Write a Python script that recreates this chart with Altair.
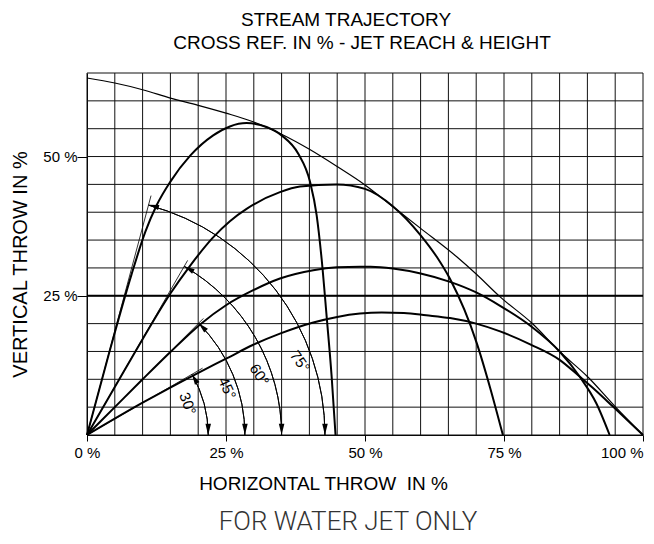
import math
import altair as alt
import pandas as pd

# ---------------- data ----------------
ENV_X = [0, 5, 10, 15, 20, 25, 30, 35, 40, 45, 50, 55, 60, 66.5, 70, 74.3, 80, 85, 90, 95, 100]
ENV_Y = [64.1, 63.2, 62.0, 60.5, 59.2, 57.8, 56.2, 54.0, 51.3, 48.2, 44.9, 41.0, 37.1, 32.0, 28.9, 24.8, 20.1, 15.0, 10.5, 5.1, 0]

T75_X = [0, 4, 8, 10.5, 12.5, 15, 18.6, 22.7, 25.7, 28.7, 32.3, 35, 38, 40.1, 41.3, 42.2, 43.1, 44, 44.7]
T75_Y = [0, 14.8, 28.8, 36.5, 41.2, 45.5, 50.2, 53.8, 55.4, 56, 55.3, 53.8, 50.5, 45.5, 39.5, 31.6, 21.3, 10.5, 0]

T60_X = [0, 5, 10, 15, 18.4, 22.6, 25.7, 28.7, 34.7, 38.3, 44.9, 50, 55.1, 59.9, 62.9, 65.3, 70.1, 72.5, 74.8]
T60_Y = [0, 8.6, 17.2, 25.4, 30.2, 35.4, 38.4, 40.6, 43.6, 44.6, 45.0, 44.2, 41.0, 36.0, 32.0, 28.0, 16.5, 8.5, 0]

T45_X = [0, 5, 10, 15, 20.4, 25, 29.9, 34.7, 40.7, 45, 49.1, 51, 55, 60, 65.3, 70, 74.3, 79.9, 85, 88.6, 91.6, 94]
T45_Y = [0, 5, 10, 14.9, 19.9, 23.3, 26.0, 28.1, 29.6, 30.1, 30.2, 30.2, 29.9, 29.0, 27.5, 25.6, 23.2, 19.5, 15.0, 10.5, 5.7, 0]

T30_X = [0, 10, 19.5, 25.2, 29.9, 34.7, 40.7, 45, 49.1, 53, 57, 61, 65.3, 70, 74.3, 79.9, 85, 88.6, 91.5, 94.6, 100]
T30_Y = [0, 5.8, 10.9, 13.8, 16.2, 18.2, 20.2, 21.2, 21.8, 22.0, 21.9, 21.5, 21.0, 20.0, 18.6, 16.2, 13.5, 10.5, 8.0, 5.1, 0]

ARC_ANGLES = [75, 60, 45, 30]
ARC_RADII = [42.8, 35.0, 28.4, 21.8]
TANGENT_LEN = [44.5, 36.2, 29.6, 24.0]

ANGLE_LABELS = ["75°", "60°", "45°", "30°"]
LABEL_X = [38.3, 31.0, 25.2, 18.1]
LABEL_Y = [13.2, 10.8, 8.4, 5.6]
LABEL_ROT = [55, 58, 65, 70]

GRID_X = [0, 5, 10, 15, 20, 25, 30, 35, 40, 45, 50, 55, 60, 65, 70, 75, 80, 85, 90, 95, 100]
GRID_Y = [0, 5, 10, 15, 20, 25, 30, 35, 40, 45, 50, 55, 60, 65]
REF_LINE = [25]
X_TICKS = [0, 25, 50, 75, 100]
Y_TICKS = [25, 50]

HEADER_1 = "STREAM TRAJECTORY"
HEADER_2 = "CROSS REF. IN % - JET REACH & HEIGHT"
X_TITLE = "HORIZONTAL THROW\u00a0 IN %"
Y_TITLE = "VERTICAL THROW IN %"
FOOTER = "FOR WATER JET ONLY"

# ---------------- chart ----------------
W, H = 556, 362
FONT = "Liberation Sans"
xs = alt.Scale(domain=[0, 100], nice=False, zero=False)
ys = alt.Scale(domain=[0, 65], nice=False, zero=False)

x_axis = alt.Axis(
    values=X_TICKS, labelExpr="datum.value + ' %'", title=X_TITLE, grid=False,
    domainColor="black", domainWidth=1, tickSize=6, tickColor="black", tickWidth=1,
    labelFont=FONT, labelFontSize=15, labelColor="black", labelPadding=4,
    labelFlush=False, labelAlign={"expr": "datum.value == 100 ? 'right' : 'center'"},
    titleFont=FONT, titleFontSize=19, titleFontWeight="normal", titleColor="black",
    titleX=236, titleY=54, titleAlign="center", titleBaseline="alphabetic",
)
y_axis = alt.Axis(
    values=Y_TICKS, labelExpr="datum.value + ' %'", title=Y_TITLE, grid=False,
    domainColor="black", domainWidth=1, tickSize=10, tickColor="black", tickWidth=1,
    labelFont=FONT, labelFontSize=15, labelColor="black", labelPadding=0,
    titleFont=FONT, titleFontSize=20, titleFontWeight="normal", titleColor="black",
    titleX=-67, titleY=191, titleAngle=270, titleAlign="center", titleBaseline="middle",
)


def X(f):
    return alt.X(f, type="quantitative", scale=xs, axis=x_axis)


def Y(f):
    return alt.Y(f, type="quantitative", scale=ys, axis=y_axis)


vgrid = alt.Chart(pd.DataFrame({"gx": GRID_X})).mark_rule(color="#111", strokeWidth=1).encode(
    x=X("gx"))
hgrid = alt.Chart(pd.DataFrame({"gy": GRID_Y})).mark_rule(color="#111", strokeWidth=1).encode(
    y=Y("gy"))
ref = alt.Chart(pd.DataFrame({"gy": REF_LINE})).mark_rule(color="black", strokeWidth=2).encode(
    y=Y("gy"))

rows = []
for name, xv, yv in [("75", T75_X, T75_Y), ("60", T60_X, T60_Y), ("45", T45_X, T45_Y), ("30", T30_X, T30_Y)]:
    for i, (a, b) in enumerate(zip(xv, yv)):
        rows.append({"curve": name, "i": i, "x": a, "y": b})
traj_df = pd.DataFrame(rows)
env_df = pd.DataFrame({"x": ENV_X, "y": ENV_Y, "i": list(range(len(ENV_X)))})

env = alt.Chart(env_df).mark_line(color="black", strokeWidth=1.2, interpolate="monotone").encode(
    x=X("x"), y=Y("y"), order="i:Q")
traj = alt.Chart(traj_df).mark_line(color="black", strokeWidth=2, interpolate="monotone").encode(
    x=X("x"), y=Y("y"), detail="curve:N", order="i:Q")

arc_df = pd.DataFrame({"a": ARC_ANGLES, "r": ARC_RADII, "L": TANGENT_LEN})

tangents = alt.Chart(arc_df).transform_calculate(
    x0="0", y0="0",
    x1="datum.L * cos(datum.a * PI / 180)",
    y1="datum.L * sin(datum.a * PI / 180)",
).mark_rule(color="black", strokeWidth=0.8).encode(
    x=X("x0"), y=Y("y0"), x2=alt.X2("x1"), y2=alt.Y2("y1"))

arcs = alt.Chart(arc_df).transform_calculate(
    cx="0", cy="0", t1="90 - datum.a", t2="90"
).mark_arc(filled=False, stroke="black", strokeWidth=1).encode(
    x=X("cx"), y=Y("cy"),
    theta=alt.Theta("t1:Q", stack=False, scale=alt.Scale(domain=[0, 360], range=[0, 2 * math.pi])),
    theta2=alt.Theta2("t2"),
    radius=alt.Radius("r:Q", scale=alt.Scale(type="linear", domain=[0, 100], range=[0, W])),
    radius2=alt.Radius2("r"),
)

ARROW = "M0,0 L-0.25,-1 L0.25,-1 Z"
start_arrows = alt.Chart(arc_df).transform_calculate(
    ax="datum.r * cos(datum.a * PI / 180)",
    ay="datum.r * sin(datum.a * PI / 180)",
    rot="180 - datum.a",
).mark_point(shape=ARROW, filled=True, color="black", size=440, opacity=1).encode(
    x=X("ax"), y=Y("ay"), angle=alt.Angle("rot:Q", scale=None))
end_arrows = alt.Chart(arc_df).transform_calculate(
    ex="datum.r", ey="0", rot="0"
).mark_point(shape=ARROW, filled=True, color="black", size=500, opacity=1).encode(
    x=X("ex"), y=Y("ey"), angle=alt.Angle("rot:Q", scale=None))

lab_df = pd.DataFrame({"t": ANGLE_LABELS, "x": LABEL_X, "y": LABEL_Y, "rot": LABEL_ROT})
labels = alt.Chart(lab_df).mark_text(font=FONT, fontSize=15, color="black", align="center",
                                     baseline="middle").encode(
    x=X("x"), y=Y("y"), text="t:N", angle=alt.Angle("rot:Q", scale=None))

h1 = alt.Chart(pd.DataFrame({"t": [HEADER_1]})).mark_text(
    font=FONT, fontSize=19, color="black", align="center", baseline="alphabetic").encode(
    text="t:N", x=alt.value(259), y=alt.value(-47))
h2 = alt.Chart(pd.DataFrame({"t": [HEADER_2]})).mark_text(
    font=FONT, fontSize=19, color="black", align="center", baseline="alphabetic").encode(
    text="t:N", x=alt.value(275), y=alt.value(-24))
foot = alt.Chart(pd.DataFrame({"t": [FOOTER]})).mark_text(
    font="Roboto", fontSize=26, fontWeight=300, color="#333", align="center",
    baseline="alphabetic").encode(
    text="t:N", x=alt.value(261), y=alt.value(457))

chart = alt.layer(
    vgrid, hgrid, ref, env, traj, tangents, arcs, start_arrows, end_arrows, labels, h1, h2, foot
).properties(
    width=W, height=H,
    autosize=alt.AutoSizeParams(type="none"),
    padding={"left": 79, "top": 65, "right": 3, "bottom": 101},
).configure_view(strokeWidth=0)

chart.save("out.html", embed_options={"renderer": "svg", "actions": False})
